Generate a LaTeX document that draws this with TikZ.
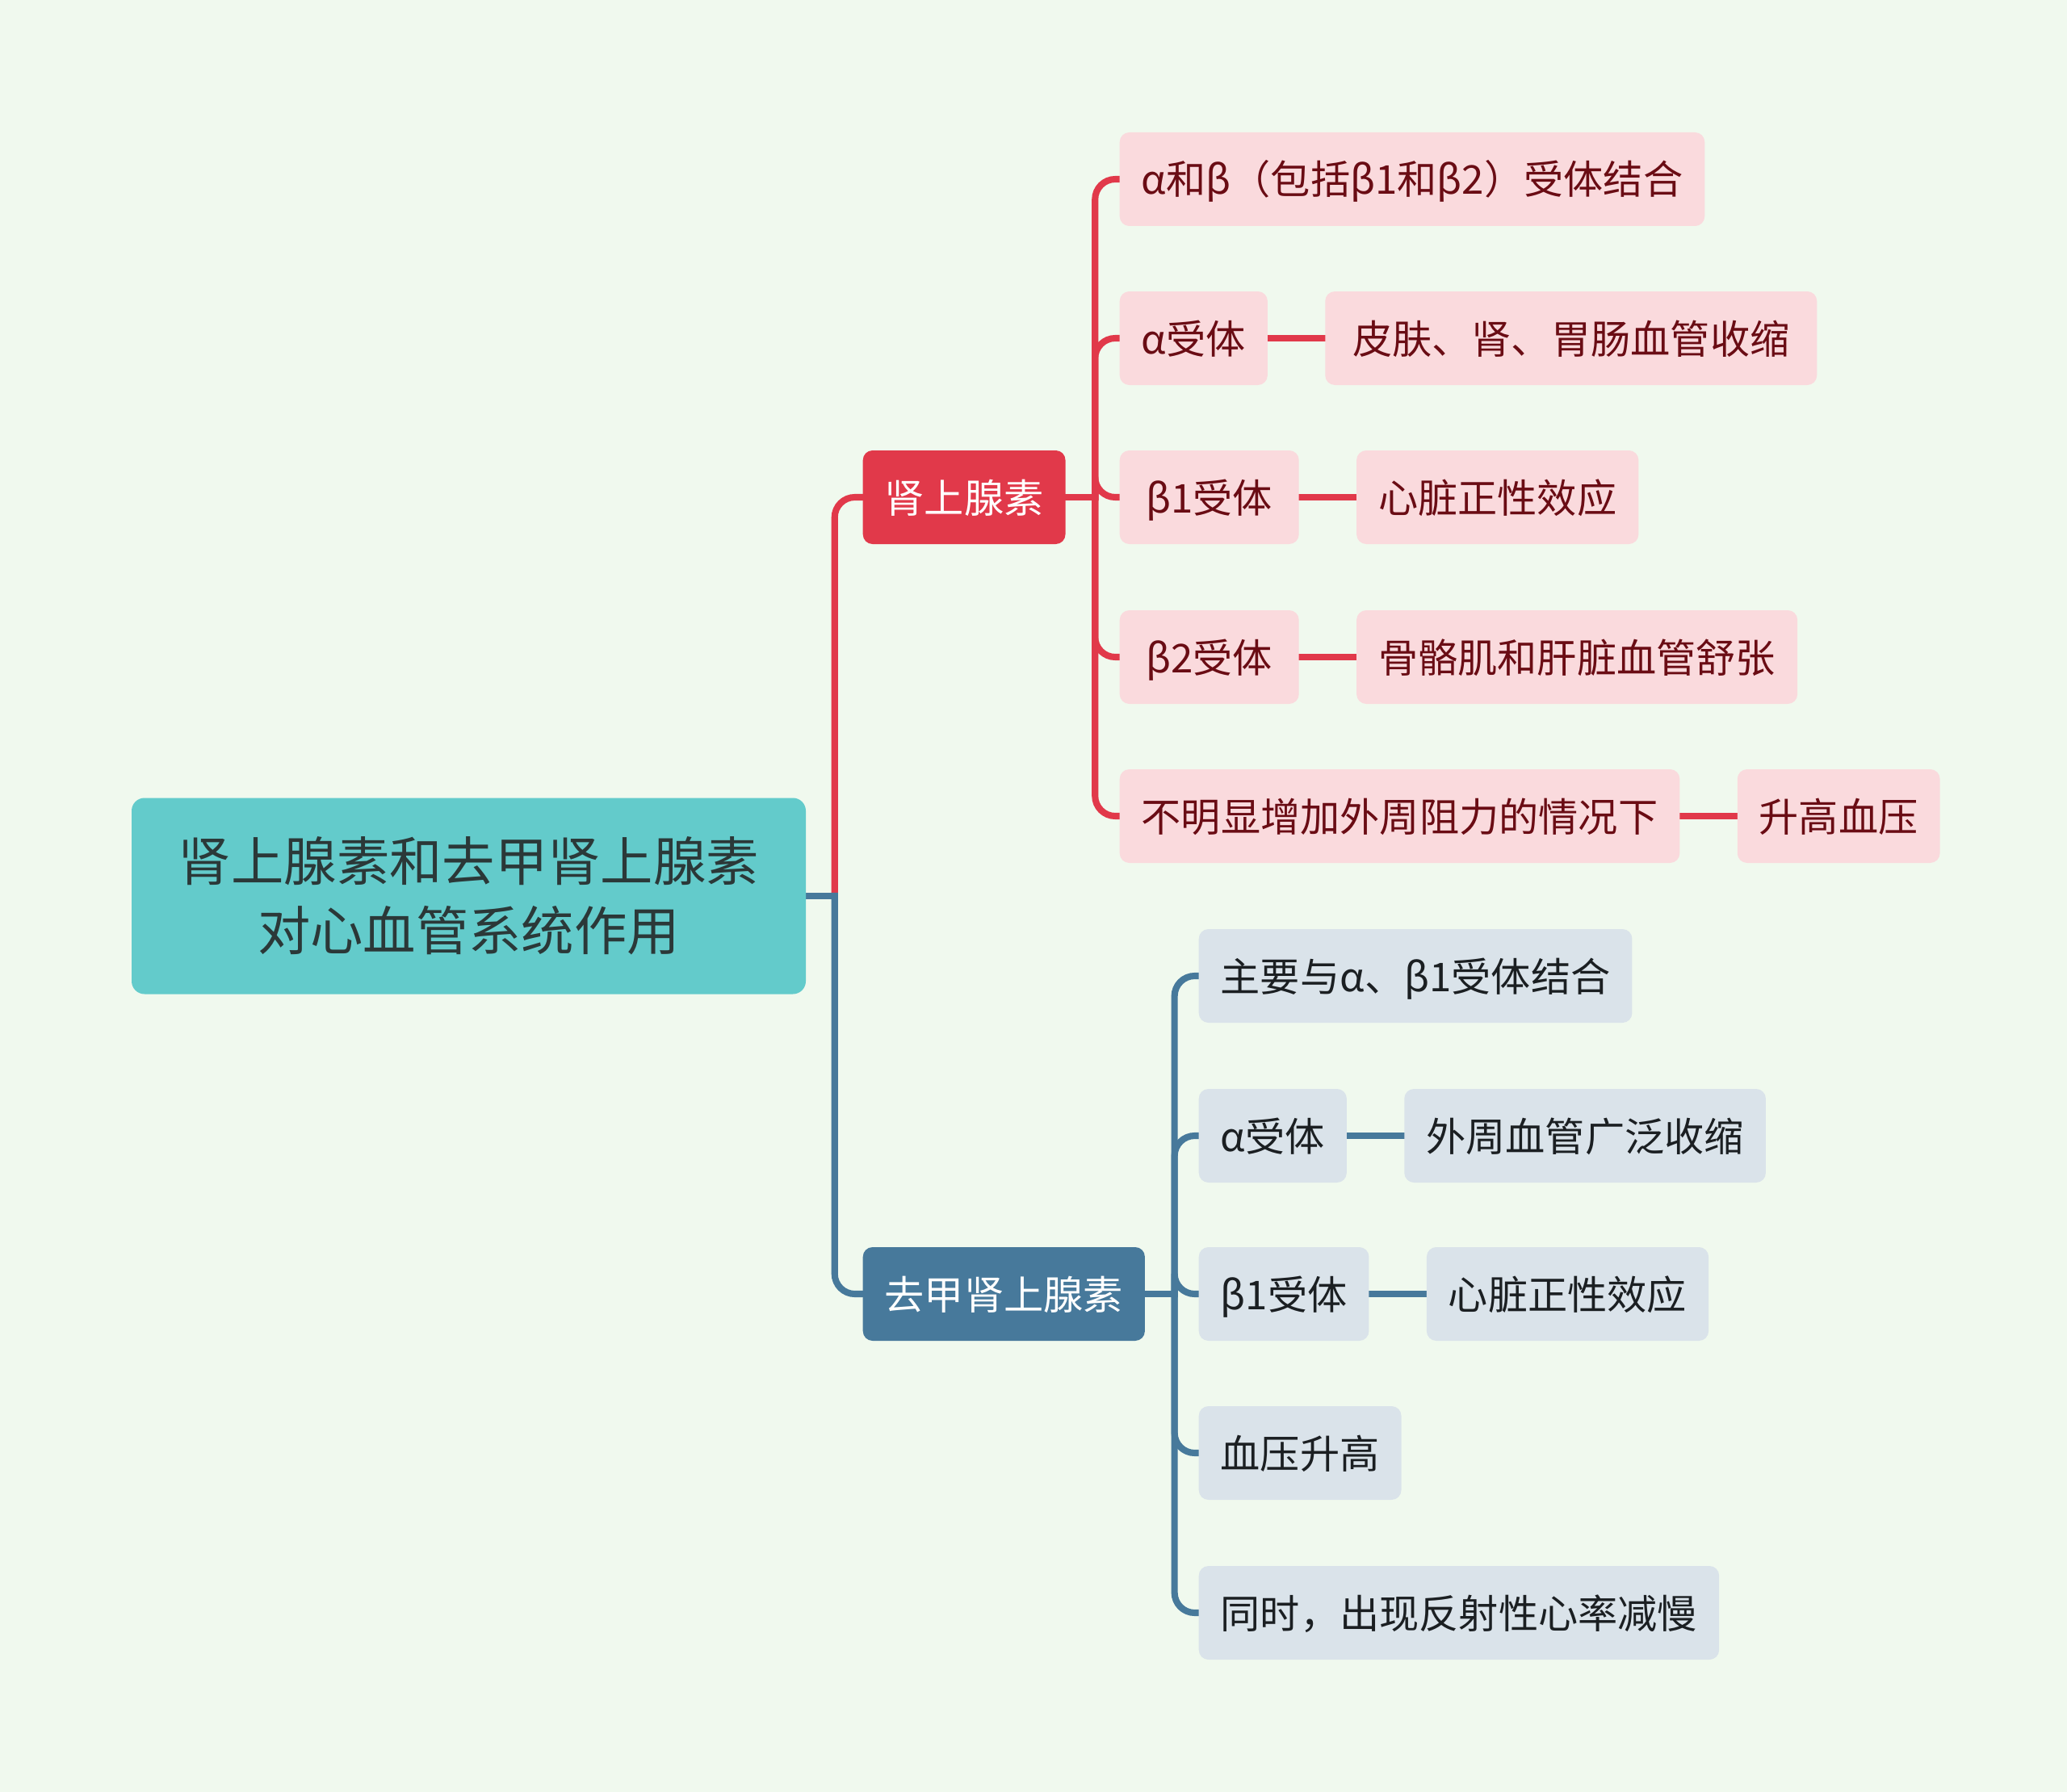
\documentclass[tikz,border=0pt]{standalone}
\usepackage{fontspec}
\setmainfont{Noto Sans CJK SC}
\usetikzlibrary{positioning,calc,backgrounds}
\definecolor{cBg}{HTML}{F0F9EE}
\definecolor{cRoot}{HTML}{63CBCB}
\definecolor{cRootTxt}{HTML}{2B3838}
\definecolor{cRed}{HTML}{E1394A}
\definecolor{cRedSoft}{HTML}{FADADD}
\definecolor{cRedTxt}{HTML}{6A0C14}
\definecolor{cBlue}{HTML}{47799B}
\definecolor{cBlueSoft}{HTML}{DAE3EA}
\definecolor{cBlueTxt}{HTML}{1B1F22}
\tikzset{
  map/box/.style={rounded corners=0.12cm, inner xsep=0.27cm, inner ysep=0pt,
                  minimum height=1.16cm, anchor=west,
                  text height=0.44cm, text depth=0.06cm,
                  font=\fontsize{14}{17}\selectfont},
  map/root/.style={fill=cRoot, text=cRootTxt, rounded corners=0.16cm,
                   minimum width=8.35cm, minimum height=2.43cm, align=center,
                   font=\fontsize{18.6}{24.5}\selectfont},
  map/redmain/.style ={map/box, fill=cRed, text=white},
  map/redleaf/.style ={map/box, fill=cRedSoft, text=cRedTxt},
  map/bluemain/.style={map/box, fill=cBlue, text=white},
  map/blueleaf/.style={map/box, fill=cBlueSoft, text=cBlueTxt},
  map/redline/.style ={draw=cRed, line width=2.3pt, line cap=rect},
  map/blueline/.style={draw=cBlue, line width=2.3pt, line cap=rect},
  map/bend/.style={rounded corners=0.25cm}
}

\begin{document}
\begin{tikzpicture}
    % --- root ---
    \node[map/root] (root) at (5.805,-11.10) {肾上腺素和去甲肾上腺素\\对心血管系统作用};

    % --- main branches ---
    \node[map/redmain]  (ad) at (10.68,-6.16)  {肾上腺素};
    \node[map/bluemain] (ne) at (10.68,-16.03) {去甲肾上腺素};

    % --- adrenaline leaves ---
    \node[map/redleaf] (adBind)    at (13.86,-2.22)  {α和β（包括β1和β2）受体结合};
    \node[map/redleaf] (adAlpha)   at (13.86,-4.19)  {α受体};
    \node[map/redleaf, minimum width=2.22cm] (adBetaOne) at (13.86,-6.16) {β1受体};
    \node[map/redleaf, minimum width=2.22cm] (adBetaTwo) at (13.86,-8.14) {β2受体};
    \node[map/redleaf] (adPress)   at (13.86,-10.11) {不明显增加外周阻力的情况下};

    \node[map/redleaf, right=0.7cm of adAlpha, minimum width=6.09cm] (adAlphaFx) {皮肤、肾、胃肠血管收缩};
    \node[map/redleaf, right=0.7cm of adBetaOne] (adBetaOneFx) {心脏正性效应};
    \node[map/redleaf, right=0.7cm of adBetaTwo] (adBetaTwoFx) {骨骼肌和肝脏血管舒张};
    \node[map/redleaf, right=0.7cm of adPress]   (adPressFx)   {升高血压};

    % --- noradrenaline leaves ---
    \node[map/blueleaf] (neBind)    at (14.84,-12.09) {主要与α、β1受体结合};
    \node[map/blueleaf] (neAlpha)   at (14.84,-14.07) {α受体};
    \node[map/blueleaf] (neBetaOne) at (14.84,-16.03) {β1受体};
    \node[map/blueleaf] (neRise)    at (14.84,-18.00) {血压升高};
    \node[map/blueleaf] (neReflex)  at (14.84,-19.98) {同时，出现反射性心率减慢};

    \node[map/blueleaf, right=0.7cm of neAlpha]   (neAlphaFx)   {外周血管广泛收缩};
    \node[map/blueleaf, right=0.7cm of neBetaOne] (neBetaOneFx) {心脏正性效应};

    % --- forks ---
    \coordinate (rootFork) at ($(root.east)+(0.35,0)$);
    \coordinate (adFork)   at ($(ad.east)+(0.36,0)$);
    \coordinate (neFork)   at ($(ne.east)+(0.36,0)$);

    \begin{scope}[on background layer]
      \fill[cBg] (0,0) rectangle (25.6,-22.2);

      % --- red side ---
      \draw[map/redline] (root.east) -- (rootFork);
      \draw[map/redline, map/bend] (rootFork) |- (ad.west);
      \draw[map/redline] (ad.east) -- (adFork);
      \foreach \leaf in {adBind,adAlpha,adBetaOne,adBetaTwo,adPress}
        \draw[map/redline, map/bend] (adFork) |- (\leaf.west);
      \draw[map/redline] (adAlpha.east)   -- (adAlphaFx.west);
      \draw[map/redline] (adBetaOne.east) -- (adBetaOneFx.west);
      \draw[map/redline] (adBetaTwo.east) -- (adBetaTwoFx.west);
      \draw[map/redline] (adPress.east)   -- (adPressFx.west);

      % --- blue side ---
      \draw[map/blueline] (root.east) -- (rootFork);
      \draw[map/blueline, map/bend] (rootFork) |- (ne.west);
      \draw[map/blueline] (ne.east) -- (neFork);
      \foreach \leaf in {neBind,neAlpha,neBetaOne,neRise,neReflex}
        \draw[map/blueline, map/bend] (neFork) |- (\leaf.west);
      \draw[map/blueline] (neAlpha.east)   -- (neAlphaFx.west);
      \draw[map/blueline] (neBetaOne.east) -- (neBetaOneFx.west);
    \end{scope}
\end{tikzpicture}
\end{document}
